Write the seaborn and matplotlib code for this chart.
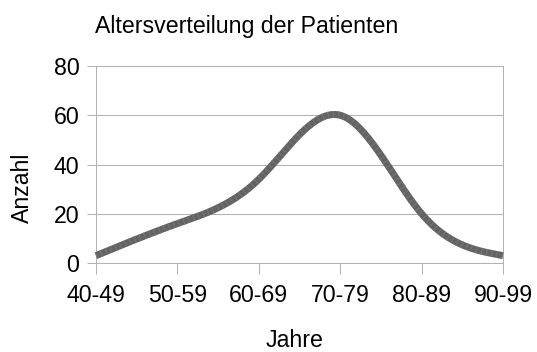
import numpy as np
import pandas as pd
import matplotlib
matplotlib.use("Agg")
import matplotlib.pyplot as plt
import seaborn as sns

# Age groups and patient counts
age_groups = ["40-49", "50-59", "60-69", "70-79", "80-89", "90-99"]
counts = [3, 16, 34, 60, 20, 3]
y_ticks = [0, 20, 40, 60, 80]

title = "Altersverteilung der Patienten"
x_label = "Jahre"
y_label = "Anzahl"


def natural_spline(y, samples_per_seg=60):
    """Natural cubic spline through equally spaced points (x = 0..n-1)."""
    y = np.asarray(y, dtype=float)
    n = len(y)
    A = np.zeros((n, n))
    rhs = np.zeros(n)
    A[0, 0] = A[-1, -1] = 1.0
    for i in range(1, n - 1):
        A[i, i - 1], A[i, i], A[i, i + 1] = 1.0, 4.0, 1.0
        rhs[i] = 6.0 * (y[i + 1] - 2 * y[i] + y[i - 1])
    M = np.linalg.solve(A, rhs)
    xs, ys = [], []
    for i in range(n - 1):
        t = np.linspace(0, 1, samples_per_seg, endpoint=(i == n - 2))
        a, b = 1 - t, t
        seg = (a * y[i] + b * y[i + 1]
               + ((a ** 3 - a) * M[i] + (b ** 3 - b) * M[i + 1]) / 6.0)
        xs.append(i + t)
        ys.append(seg)
    return np.concatenate(xs), np.concatenate(ys)


sns.set_theme(style="white")
plt.rcParams["font.family"] = ["Liberation Sans", "DejaVu Sans"]

xs, ys = natural_spline(counts)
curve = pd.DataFrame({"pos": xs, "Anzahl": ys})

fig = plt.figure(figsize=(5.37, 3.52), dpi=100)
ax = fig.add_axes([96 / 537, 1 - 263 / 352, 407 / 537, 197 / 352])

grey = "#b3b3b3"
sns.lineplot(data=curve, x="pos", y="Anzahl", ax=ax, color="#636363",
             linewidth=5.0, sort=False, zorder=3, clip_on=False,
             solid_capstyle="butt")
# fine lighter stripes across the thick line
ax.plot(xs, ys, color="#767676", linewidth=5.0, zorder=4, clip_on=False,
        linestyle=(0, (0.15, 0.6)), dash_capstyle="butt")

ax.set_xlim(0, len(age_groups) - 1)
ax.set_ylim(y_ticks[0], y_ticks[-1])
ax.set_xticks(range(len(age_groups)))
ax.set_xticklabels(age_groups)
ax.set_yticks(y_ticks)

ax.grid(axis="y", color=grey, linewidth=0.75, zorder=0)
ax.grid(axis="x", visible=False)
for side in ["left", "right", "top", "bottom"]:
    ax.spines[side].set_visible(True)
    ax.spines[side].set_color(grey)
    ax.spines[side].set_linewidth(0.75)

ax.tick_params(axis="y", which="major", left=True, length=6.5, width=0.75,
               color=grey, labelsize=16.7, labelcolor="black", pad=5.5)
ax.tick_params(axis="x", which="major", bottom=True, length=8, width=0.75,
               color=grey, labelsize=16.7, labelcolor="black", pad=7)

ax.set_xlabel(x_label, fontsize=16.7, color="black")
ax.xaxis.label.set_va("baseline")
ax.xaxis.set_label_coords(0.4877, -0.426)
ax.set_ylabel(y_label, fontsize=16.7, color="black")
ax.yaxis.label.set_va("center")
ax.yaxis.set_label_coords(-0.18, 0.383)

ax.text(-0.0025, 1.169, title, transform=ax.transAxes, fontsize=16.7,
        ha="left", va="baseline", color="black")

fig.savefig("out.png", dpi=100, facecolor="white")
